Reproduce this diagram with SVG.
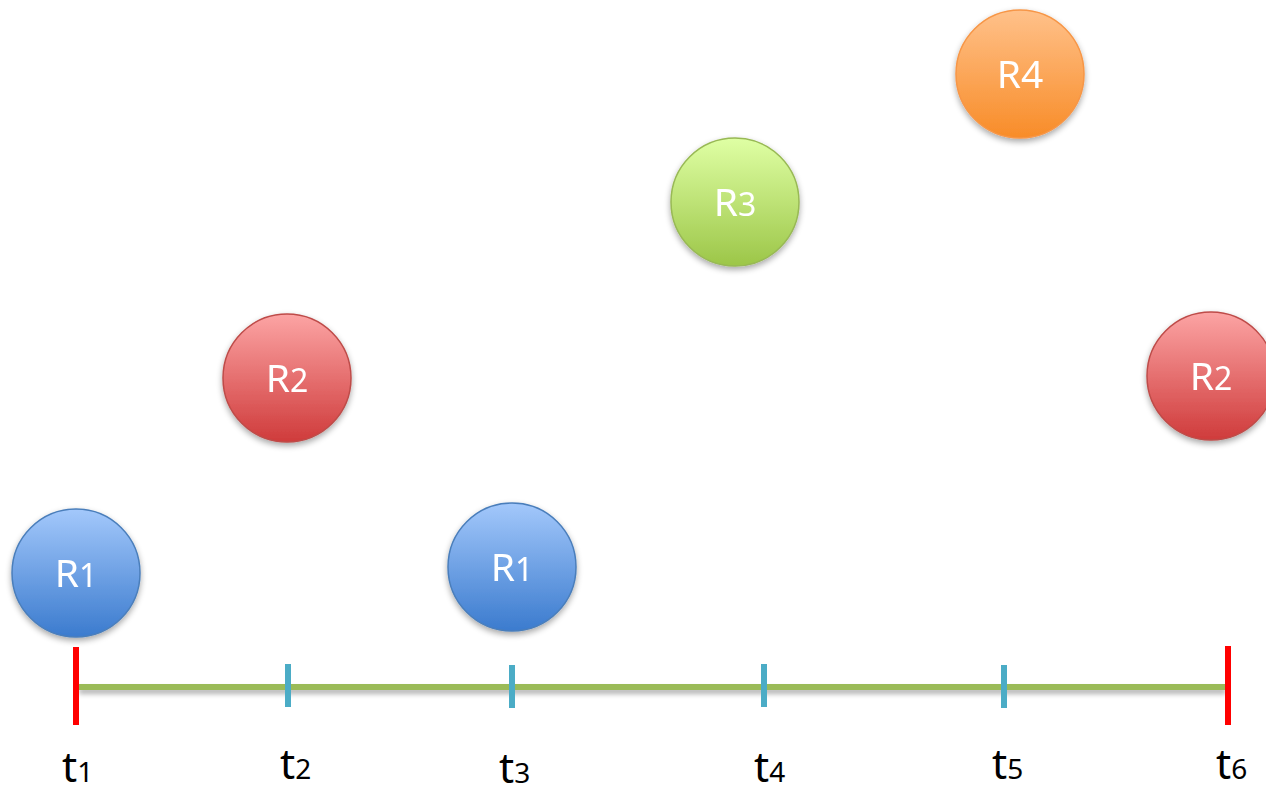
<svg xmlns="http://www.w3.org/2000/svg" width="1266" height="787" viewBox="0 0 1266 787">
<defs>
<linearGradient id="gB" x1="0" y1="0" x2="0" y2="1"><stop offset="0" stop-color="#A3C8FB"/><stop offset="1" stop-color="#3B7BCE"/></linearGradient>
<linearGradient id="gR" x1="0" y1="0" x2="0" y2="1"><stop offset="0" stop-color="#FCA4A4"/><stop offset="1" stop-color="#CF3B3B"/></linearGradient>
<linearGradient id="gG" x1="0" y1="0" x2="0" y2="1"><stop offset="0" stop-color="#DFFFA4"/><stop offset="1" stop-color="#9CC648"/></linearGradient>
<linearGradient id="gO" x1="0" y1="0" x2="0" y2="1"><stop offset="0" stop-color="#FFC18A"/><stop offset="1" stop-color="#F88C28"/></linearGradient>
<filter id="sh" x="-20%" y="-20%" width="140%" height="150%"><feGaussianBlur in="SourceAlpha" stdDeviation="3"/><feOffset dy="3"/><feComponentTransfer><feFuncA type="linear" slope="0.35"/></feComponentTransfer><feMerge><feMergeNode/><feMergeNode in="SourceGraphic"/></feMerge></filter>
<filter id="shl" filterUnits="userSpaceOnUse" x="60" y="670" width="1190" height="40"><feGaussianBlur in="SourceAlpha" stdDeviation="2.5"/><feOffset dy="4"/><feComponentTransfer><feFuncA type="linear" slope="0.3"/></feComponentTransfer><feMerge><feMergeNode/><feMergeNode in="SourceGraphic"/></feMerge></filter>
</defs>
<style>
.lbl{font-family:"Noto Sans","Open Sans",sans-serif;font-size:39px;fill:#ffffff;text-anchor:middle}
.sub{font-size:32px}
.t{font-family:"Noto Sans","Open Sans",sans-serif;font-size:42px;fill:#000000}
.ts{font-size:28px}
.blue{fill:url(#gB);stroke:#4A7EBB;stroke-width:1.5}
.red{fill:url(#gR);stroke:#BE4B48;stroke-width:1.5}
.green{fill:url(#gG);stroke:#98B954;stroke-width:1.5}
.orange{fill:url(#gO);stroke:#F79646;stroke-width:1.5}
</style>
<rect width="1266" height="787" fill="#ffffff"/>
<g id="axis">
<rect x="79" y="684" width="1147" height="6" fill="#9BBB59" filter="url(#shl)"/>
<line x1="76" y1="647" x2="76" y2="725" stroke="#FF0000" stroke-width="6"/>
<line x1="1228" y1="646" x2="1228" y2="725" stroke="#FF0000" stroke-width="6"/>
<g stroke="#4BACC6" stroke-width="6">
<line x1="288" y1="664" x2="288" y2="707"/>
<line x1="512" y1="665" x2="512" y2="708"/>
<line x1="764" y1="664" x2="764" y2="707"/>
<line x1="1004" y1="665" x2="1004" y2="708"/>
</g>
</g>
<g id="labels">
<text class="t" x="62" y="782">t<tspan class="ts">1</tspan></text>
<text class="t" x="280" y="779">t<tspan class="ts">2</tspan></text>
<text class="t" x="499" y="783">t<tspan class="ts">3</tspan></text>
<text class="t" x="754" y="782">t<tspan class="ts">4</tspan></text>
<text class="t" x="992" y="779">t<tspan class="ts">5</tspan></text>
<text class="t" x="1216" y="779">t<tspan class="ts">6</tspan></text>
</g>
<g id="n_r1a" filter="url(#sh)"><circle class="blue" cx="76" cy="573" r="64"/><text class="lbl" x="76" y="587">R<tspan class="sub">1</tspan></text></g>
<g id="n_r2a" filter="url(#sh)"><circle class="red" cx="287" cy="378" r="64"/><text class="lbl" x="287" y="392">R<tspan class="sub">2</tspan></text></g>
<g id="n_r1b" filter="url(#sh)"><circle class="blue" cx="512" cy="567" r="64"/><text class="lbl" x="512" y="581">R<tspan class="sub">1</tspan></text></g>
<g id="n_r3" filter="url(#sh)"><circle class="green" cx="735" cy="202" r="64"/><text class="lbl" x="735" y="216">R<tspan class="sub">3</tspan></text></g>
<g id="n_r4" filter="url(#sh)"><circle class="orange" cx="1020" cy="74" r="64"/><text class="lbl" x="1020" y="88">R4</text></g>
<g id="n_r2b" filter="url(#sh)"><circle class="red" cx="1211" cy="376" r="64"/><text class="lbl" x="1211" y="390">R<tspan class="sub">2</tspan></text></g>
</svg>
